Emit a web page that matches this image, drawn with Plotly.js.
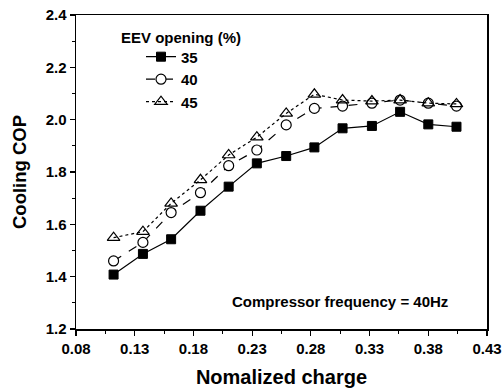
<!DOCTYPE html>
<html>
<head>
<meta charset="utf-8">
<script src="https://cdn.plot.ly/plotly-3.0.1.min.js"></script>
<style>html,body{margin:0;padding:0;background:#fff;}#chart{width:503px;height:392px;}</style>
</head>
<body>
<div id="chart"></div>
<script>
const charge = [0.112, 0.137, 0.161, 0.186, 0.210, 0.234, 0.259, 0.283, 0.307, 0.332, 0.356, 0.380, 0.404];
const cop35 = [1.408, 1.487, 1.543, 1.652, 1.744, 1.833, 1.861, 1.894, 1.967, 1.976, 2.030, 1.982, 1.973];
const cop40 = [1.460, 1.531, 1.645, 1.721, 1.824, 1.884, 1.980, 2.043, 2.052, 2.063, 2.075, 2.063, 2.052];
const cop45 = [1.549, 1.572, 1.680, 1.770, 1.865, 1.933, 2.024, 2.097, 2.075, 2.071, 2.075, 2.063, 2.060];
const seriesNames = ['35', '40', '45'];
const xTicks = [0.08, 0.13, 0.18, 0.23, 0.28, 0.33, 0.38, 0.43];
const yTicks = [1.2, 1.4, 1.6, 1.8, 2.0, 2.2, 2.4];

const fontFam = 'Liberation Sans, Arial, sans-serif';
const bold = (size) => ({family: fontFam, size: size, color: '#000', weight: 'bold'});

const traces = [
  {x: charge, y: cop35, name: seriesNames[0], mode: 'lines+markers',
   line: {color: '#000', width: 1.2, dash: 'solid'},
   marker: {symbol: 'square', size: 9, color: '#000', line: {color: '#000', width: 1}}},
  {x: charge, y: cop40, name: seriesNames[1], mode: 'lines+markers',
   line: {color: '#000', width: 1.2, dash: 'dash'},
   marker: {symbol: 'circle', size: 10, color: '#fff', line: {color: '#000', width: 1.2}}},
  {x: charge, y: cop45, name: seriesNames[2], mode: 'lines+markers',
   line: {color: '#000', width: 1.2, dash: 'dot'},
   marker: {symbol: 'triangle-up-open', size: 11, color: '#000', line: {color: '#000', width: 1.2}}}
];

const plotL = 76, plotR = 487, plotT = 15, plotB = 329;
const pw = plotR - plotL, ph = plotB - plotT;

const layout = {
  width: 503, height: 392,
  margin: {l: plotL, r: 503 - plotR, t: plotT, b: 392 - plotB, pad: 0},
  paper_bgcolor: '#fff', plot_bgcolor: '#fff',
  font: bold(15),
  showlegend: true,
  legend: {
    x: (141 - plotL) / pw, y: 0.919, xanchor: 'left', yanchor: 'top',
    bgcolor: 'rgba(0,0,0,0)', borderwidth: 0,
    font: bold(15)
  },
  xaxis: {
    range: [0.0799999, 0.4300001], tickvals: xTicks, ticktext: xTicks.map(v => v.toFixed(2)),
    ticklabeloverflow: 'allow',
    ticks: 'outside', ticklen: 5, tickwidth: 1.2, tickcolor: '#000',
    showline: true, linecolor: '#000', linewidth: 1.5, mirror: true,
    showgrid: false, zeroline: false,
    tickfont: bold(15),
    minor: {ticks: 'outside', ticklen: 3, dtick: 0.025, tick0: 0.08, tickcolor: '#000', tickwidth: 1, showgrid: false},
    title: {text: 'Nomalized charge', font: bold(20), standoff: 14}
  },
  yaxis: {
    range: [1.2, 2.4], tickvals: yTicks, ticktext: yTicks.map(v => v.toFixed(1)),
    ticks: 'outside', ticklen: 5, tickwidth: 1.2, tickcolor: '#000',
    showline: true, linecolor: '#000', linewidth: 1.5, mirror: true,
    showgrid: false, zeroline: false,
    tickfont: bold(15),
    minor: {ticks: 'outside', ticklen: 3, dtick: 0.1, tick0: 1.2, tickcolor: '#000', tickwidth: 1, showgrid: false},
    title: {text: 'Cooling COP', font: bold(18.5), standoff: 14}
  },
  annotations: [
    {text: 'EEV opening (%)', xref: 'paper', yref: 'paper',
     x: (119 - plotL) / pw, y: (plotB - 37) / ph, xanchor: 'left', yanchor: 'middle', showarrow: false,
     font: bold(15)},
    {text: 'Compressor frequency = 40Hz', xref: 'paper', yref: 'paper',
     x: (340 - plotL) / pw, y: (plotB - 301) / ph, xanchor: 'center', yanchor: 'middle', showarrow: false,
     font: bold(15)}
  ]
};

Plotly.newPlot('chart', traces, layout, {displayModeBar: false, staticPlot: true});
</script>
</body>
</html>
